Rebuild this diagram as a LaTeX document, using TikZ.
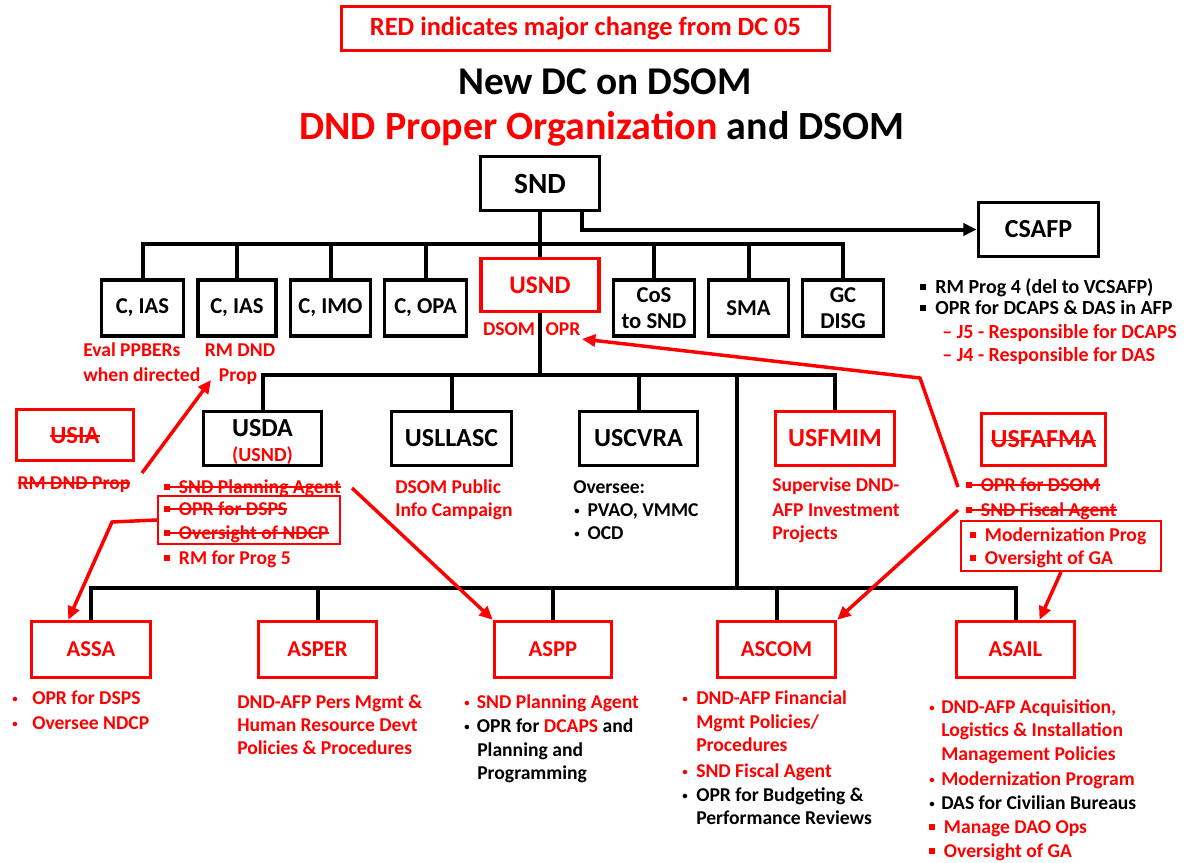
\documentclass[tikz,border=0pt]{standalone}
\usepackage{fontspec}
\setmainfont{Carlito}
\usetikzlibrary{arrows.meta,calc}
\definecolor{myred}{RGB}{255,0,0}
\newdimen\pxu \pxu=0.75pt
\newsavebox{\strkbox}
\newcommand{\fs}[2]{\fontsize{#1}{#2}\selectfont}
\newcommand{\strk}[1]{\sbox{\strkbox}{#1}\rlap{\raisebox{0.26em}{\rule{\wd\strkbox}{1.1pt}}}\usebox{\strkbox}}
\newcommand{\sqb}{\raisebox{0.17em}{\rule{0.3em}{0.3em}}\hspace{0.45em}}
\newcommand{\rbul}[1]{\makebox[#1][l]{\raisebox{0.1em}{\scalebox{0.55}{\textbullet}}}}
\tikzset{
 bx/.style={draw=black, line width=2.6pt, inner sep=0pt, align=center, font=\bfseries\fs{17}{20}},
 rbx/.style={bx, draw=myred, text=myred},
 conn/.style={line width=3pt, draw=black},
 rarr/.style={line width=2.6pt, draw=myred, -{Triangle[length=10pt,width=9pt]}},
 barr/.style={conn, -{Triangle[length=10pt,width=9pt]}},
 lbl/.style={inner sep=0pt, anchor=base west, text=myred, font=\bfseries\fs{14.7}{17}},
 blk/.style={lbl, text=black},
 thinbox/.style={draw=myred, line width=1.6pt, inner sep=0pt},
}
\begin{document}
\begin{tikzpicture}[x=0.75pt,y=-0.75pt]
\fill[white] (0,0) rectangle (1188,863);
\useasboundingbox (0,0) rectangle (1188,863);

% title
\node[rbx, line width=2.2pt, minimum width=488\pxu, minimum height=44\pxu, font=\bfseries\fs{19.8}{22}] (redbox) at (585.5,28.5) {RED indicates major change from DC 05};
\node[inner sep=0pt, anchor=base, font=\bfseries\fs{29.5}{34}] (t1) at (605,95) {New DC on DSOM};
\node[inner sep=0pt, anchor=base, font=\bfseries\fs{30}{34}] (t2) at (602,140) {\textcolor{myred}{DND Proper Organization} and DSOM};

% top
\node[bx, font=\bfseries\fs{22}{26}, minimum width=119\pxu, minimum height=54\pxu] (snd) at (540,183.5) {SND};
\node[bx, font=\bfseries\fs{19.5}{22}, minimum width=120\pxu, minimum height=54\pxu] (csafp) at (1038.5,229.5) {CSAFP};

% row 1
\node[bx, minimum width=82\pxu, minimum height=56\pxu] (cias1) at (142.5,308) {C, IAS};
\node[bx, minimum width=78\pxu, minimum height=56\pxu] (cias2) at (237,308) {C, IAS};
\node[bx, minimum width=80\pxu, minimum height=56\pxu] (cimo) at (330.5,308) {C, IMO};
\node[bx, minimum width=82\pxu, minimum height=56\pxu] (copa) at (425.5,308) {C, OPA};
\node[rbx, font=\bfseries\fs{19}{22}, minimum width=118\pxu, minimum height=53\pxu] (usnd) at (540,285) {USND};
\node[bx, minimum width=81\pxu, minimum height=56\pxu] (cos) at (654,308) {CoS\\to SND};
\node[bx, minimum width=80\pxu, minimum height=56\pxu] (sma) at (748.5,308) {SMA};
\node[bx, minimum width=81\pxu, minimum height=56\pxu] (gc) at (843,308) {GC\\DISG};

% row 2
\node[rbx, font=\bfseries\fs{18.5}{22}, minimum width=117\pxu, minimum height=51\pxu] (usia) at (75,435) {\strk{USIA}};
\node[bx, minimum width=118\pxu, minimum height=54\pxu] (usda) at (262.5,438.5) {};
\node[inner sep=0pt, anchor=base, font=\bfseries\fs{19.5}{22}] (usdaT) at (262.5,436) {USDA};
\node[lbl, anchor=base, font=\bfseries\fs{15}{18}] (usdaU) at (262.5,461) {(USND)};
\node[bx, font=\bfseries\fs{19.5}{22}, minimum width=120\pxu, minimum height=54\pxu] (usllasc) at (451.5,438.5) {USLLASC};
\node[bx, font=\bfseries\fs{19.5}{22}, minimum width=118\pxu, minimum height=54\pxu] (uscvra) at (638.5,438.5) {USCVRA};
\node[rbx, font=\bfseries\fs{19.5}{22}, minimum width=119\pxu, minimum height=54\pxu] (usfmim) at (835,438.5) {USFMIM};
\node[rbx, font=\bfseries\fs{19.5}{22}, minimum width=124\pxu, minimum height=52\pxu] (usfafma) at (1043.5,439.5) {\strk{USFAFMA}};

% row 3
\node[rbx, minimum width=119\pxu, minimum height=56\pxu] (assa) at (91,649.5) {ASSA};
\node[rbx, minimum width=118\pxu, minimum height=56\pxu] (asper) at (317.5,649.5) {ASPER};
\node[rbx, minimum width=117\pxu, minimum height=56\pxu] (aspp) at (553,649.5) {ASPP};
\node[rbx, minimum width=118\pxu, minimum height=56\pxu] (ascom) at (776.5,649.5) {ASCOM};
\node[rbx, minimum width=118\pxu, minimum height=56\pxu] (asail) at (1015.5,649.5) {ASAIL};

% connectors
\coordinate (b1) at (540,244);
\draw[conn] (cias1.north) |- (b1) -| (gc.north);
\foreach \n in {cias2,cimo,copa,cos,sma} \draw[conn] (\n.north) -- (\n.north |- b1);
\draw[conn] (snd.south) -- (usnd.north);
\draw[barr] ([xshift=42\pxu]snd.south) |- (csafp.west);
\coordinate (b2) at (540,375);
\draw[conn] (usnd.south) -- (b2);
\draw[conn] (usda.north) |- (b2) -| (usfmim.north);
\foreach \n in {usllasc,uscvra} \draw[conn] (\n.north) -- (\n.north |- b2);
\coordinate (b2c) at (737,375);
\coordinate (b3c) at (737,588);
\draw[conn] (b2c) -- (b3c);
\draw[conn] (assa.north) |- (b3c) -| (asail.north);
\foreach \n in {asper,aspp,ascom} \draw[conn] (\n.north) -- (\n.north |- b3c);

% thin boxes
\node[thinbox, minimum width=182\pxu, minimum height=48\pxu] (oprbox) at (249,520) {};
\node[thinbox, minimum width=200\pxu, minimum height=50\pxu] (modbox) at (1061,546) {};

% row1 labels
\node[lbl] (ev1) at (83,356) {Eval PPBERs};
\node[lbl] (ev2) at (83,381) {when directed};
\node[lbl, anchor=base] (rm1) at (240,356) {RM DND};
\node[lbl, anchor=base] (prop) at (238,381) {Prop};
\node[lbl, anchor=base] (dsom) at (509,335) {DSOM};
\node[lbl, anchor=base] (opr) at (563,335) {OPR};

% row2 labels
\node[lbl, anchor=base] (usiaL) at (74,489) {\strk{RM DND Prop}};
\node[lbl] (sndpa) at (164,493) {\strk{\sqb SND Planning Agent}};
\node[lbl] (dsps) at (164,515) {\strk{\sqb OPR for DSPS}};
\node[lbl] (ndcp) at (164,539) {\strk{\sqb Oversight of NDCP}};
\node[lbl] (prog5) at (164,564) {\sqb RM for Prog 5};
\node[lbl] (ll1) at (395,493) {DSOM Public};
\node[lbl] (ll2) at (395,516) {Info Campaign};
\node[blk] (cv1) at (573,493) {Oversee:};
\node[blk] (cv2) at (574,516) {\rbul{10pt}PVAO, VMMC};
\node[blk] (cv3) at (574,539) {\rbul{10pt}OCD};
\node[lbl] (fm1) at (772,491) {Supervise DND-};
\node[lbl] (fm2) at (772,516) {AFP Investment};
\node[lbl] (fm3) at (772,539) {Projects};
\node[lbl] (fa1) at (966,491) {\strk{\sqb OPR for DSOM}};
\node[lbl] (fa2) at (966,516) {\strk{\sqb SND Fiscal Agent}};
\node[lbl] (fa3) at (970,541) {\sqb Modernization Prog};
\node[lbl] (fa4) at (970,564) {\sqb Oversight of GA};

% csafp labels
\node[blk, font=\bfseries\fs{15}{18}] (cs1) at (920,293.5) {\sqb RM Prog 4 (del to VCSAFP)};
\node[blk, font=\bfseries\fs{15}{18}] (cs2) at (920,314.5) {\sqb OPR for DCAPS \& DAS in AFP};
\node[lbl, font=\bfseries\fs{15}{18}] (cs3) at (942,338.5) {-- J5 - Responsible for DCAPS};
\node[lbl, font=\bfseries\fs{15}{18}] (cs4) at (942,361.5) {-- J4 - Responsible for DAS};

% row3 labels
\node[lbl] (sa1) at (12,704) {\rbul{15pt}OPR for DSPS};
\node[lbl] (sa2) at (12,729) {\rbul{15pt}Oversee NDCP};
\node[lbl] (pe1) at (237,708) {DND-AFP Pers Mgmt \&};
\node[lbl] (pe2) at (237,731) {Human Resource Devt};
\node[lbl] (pe3) at (237,754) {Policies \& Procedures};
\node[lbl] (pp1) at (464,708) {\rbul{9.5pt}SND Planning Agent};
\node[blk] (pp2) at (464,732) {\rbul{9.5pt}OPR for \textcolor{myred}{DCAPS} and};
\node[blk] (pp3) at (477,756) {Planning and};
\node[blk] (pp4) at (477,779) {Programming};
\node[lbl] (co1) at (682,704) {\rbul{10.5pt}DND-AFP Financial};
\node[lbl] (co2) at (696,728) {Mgmt Policies/};
\node[lbl] (co3) at (696,751) {Procedures};
\node[lbl] (co4) at (682,777) {\rbul{10.5pt}SND Fiscal Agent};
\node[blk] (co5) at (682,801) {\rbul{10.5pt}OPR for Budgeting \&};
\node[blk] (co6) at (696,824) {Performance Reviews};
\node[lbl] (ai1) at (929,713) {\rbul{9pt}DND-AFP Acquisition,};
\node[lbl] (ai2) at (941,736) {Logistics \& Installation};
\node[lbl] (ai3) at (941,760) {Management Policies};
\node[lbl] (ai4) at (929,785) {\rbul{9pt}Modernization Program};
\node[blk] (ai5) at (929,809) {\rbul{9pt}DAS for Civilian Bureaus};
\node[lbl] (ai6) at (929,833) {\sqb Manage DAO Ops};
\node[lbl] (ai7) at (929,857) {\sqb Oversight of GA};

% red arrows
\coordinate (r1s) at (142,473);
\coordinate (r1e) at (211,380);
\draw[rarr] (r1s) -- (r1e);
\coordinate (r2m) at (112,522);
\draw[rarr] (oprbox.west) -- (r2m) -- ([xshift=-17pt]assa.north);
\coordinate (r3s) at (352,488);
\draw[rarr] (r3s) -- (aspp.north west);
\coordinate (r4s) at (958,487);
\coordinate (r4m) at (920,378);
\coordinate (r4e) at (582,339);
\draw[rarr] (r4s) -- (r4m) -- (r4e);
\coordinate (r5s) at (958,510);
\draw[rarr] (r5s) -- (ascom.north east);
\draw[rarr] (modbox.south) -- ([xshift=18pt]asail.north);
\end{tikzpicture}
\end{document}
